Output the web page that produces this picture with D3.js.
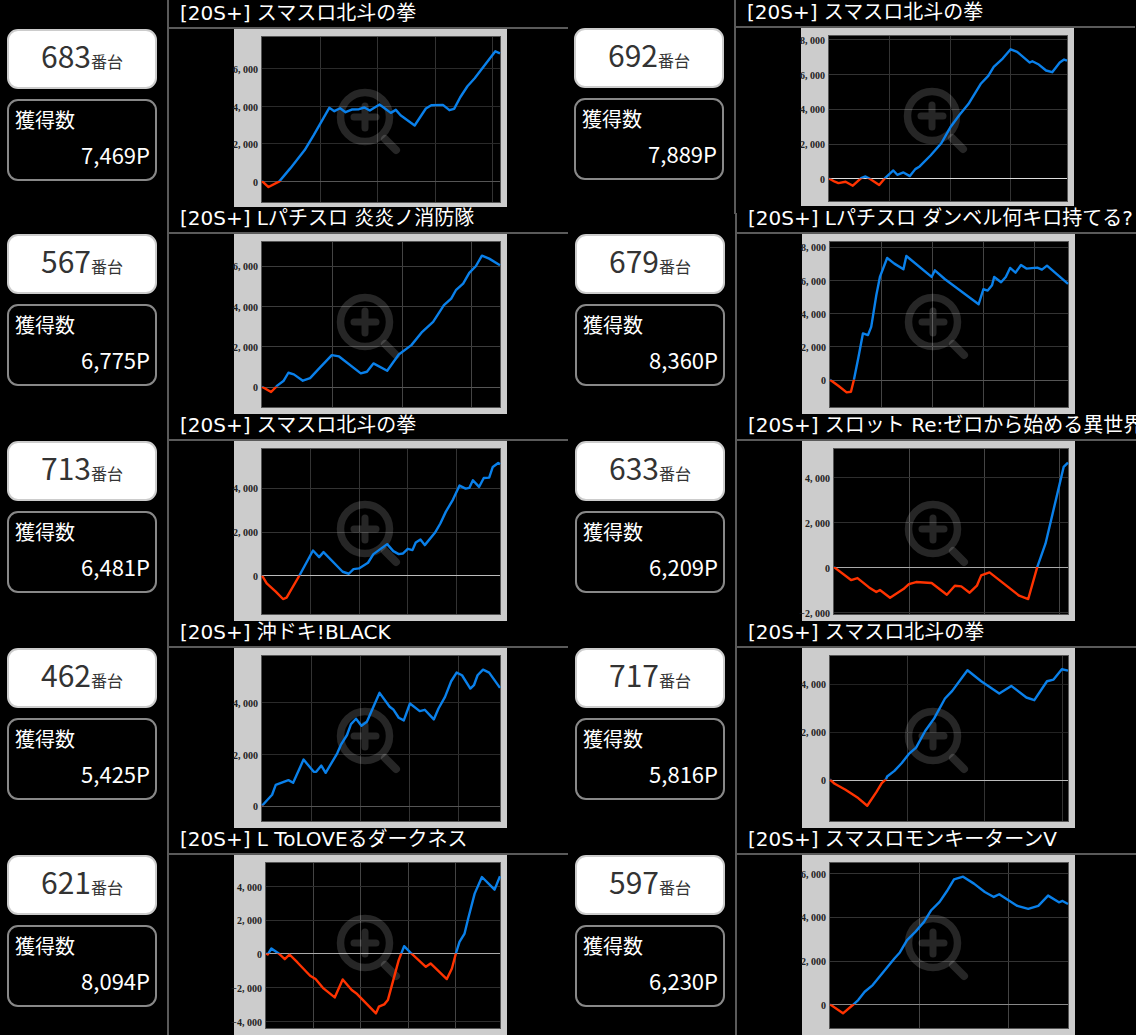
<!DOCTYPE html>
<html lang="ja">
<head>
<meta charset="utf-8">
<script src="https://cdn.jsdelivr.net/npm/d3@7/dist/d3.min.js"></script>
<style>
html,body{margin:0;padding:0;background:#000;overflow:hidden}
svg{display:block}
text{font-family:"Noto Sans CJK JP","Noto Sans",sans-serif}
.title{font-family:"DejaVu Sans","Noto Sans CJK JP",sans-serif}
.tick text{font-family:"Liberation Serif",serif;font-weight:700;font-size:10px;fill:#222}
</style>
</head>
<body>
<svg id="c" width="1136" height="1035"></svg>
<script>
// ---- content ----
const machines = [683,692,567,679,713,633,462,717,621,597];
const payouts  = ["7,469P","7,889P","6,775P","8,360P","6,481P","6,209P","5,425P","5,816P","8,094P","6,230P"];
const titles = [
 "[20S+] スマスロ北斗の拳","[20S+] スマスロ北斗の拳",
 "[20S+] Lパチスロ 炎炎ノ消防隊","[20S+] Lパチスロ ダンベル何キロ持てる?",
 "[20S+] スマスロ北斗の拳","[20S+] スロット Re:ゼロから始める異世界",
 "[20S+] 沖ドキ!BLACK","[20S+] スマスロ北斗の拳",
 "[20S+] L ToLOVEるダークネス","[20S+] スマスロモンキーターンV"];
const unitLabel = "番台";
const payoutLabel = "獲得数";

// ---- series: games played and cumulative medals ----
const games683 = [0,113,302,491,742,899,1170,1258,1358,1453,1560,1686,1780,1874,2044,2239,2327,2409,2654,2849,2943,3145,3258,3340,3447,3572,3698,4057,4138];
const values683 = [0,-319,-18,673,1646,2443,3894,3717,3876,3664,3805,3823,3912,3752,4071,3628,3788,3504,2956,3858,4035,4053,3770,3841,4460,5044,5469,6903,6796];
const games692 = [0,96,156,275,395,533,605,677,832,934,1066,1132,1234,1341,1431,1503,1683,1862,2012,2162,2311,2521,2641,2731,2880,3012,3120,3329,3371,3479,3599,3701,3826,3898,3946];
const values692 = [0,-190,-267,-190,-419,19,114,-19,-381,38,457,210,343,133,533,686,1314,2019,2933,3638,4267,5448,5886,6400,6876,7410,7257,6648,6724,6533,6190,6095,6648,6819,6762];
const games567 = [0,130,223,311,378,456,585,689,819,1000,1104,1415,1503,1596,1793,1959,2140,2295,2451,2606,2710,2777,2881,2969,3062,3150,3254,3409];
const values567 = [0,-264,66,297,692,610,297,428,906,1565,1499,659,741,1153,791,1598,2059,2718,3213,4037,4366,4778,5107,5634,5964,6491,6342,6013];
const games679 = [0,163,327,412,469,554,647,746,810,910,981,1123,1265,1443,1500,1997,2061,2260,2921,3014,3099,3184,3227,3362,3454,3539,3646,3753,3859,4073,4165,4264,4677];
const values679 = [0,-360,-760,-720,-20,1280,2780,2680,3180,5080,6180,7320,6980,6640,7440,6180,6580,6040,4540,5440,5360,5680,6180,5860,6180,6720,6440,6900,6680,6740,6620,6860,5760];
const games713 = [0,97,284,433,507,769,1052,1179,1269,1664,1791,1888,2000,2187,2299,2582,2709,2821,2910,3007,3104,3172,3269,3358,3567,3679,3791,3940,4075,4201,4276,4351,4478,4575,4687,4761,4873,4910];
const values713 = [0,-364,-742,-1076,-1015,-15,1136,833,1061,167,76,288,318,576,970,1424,1106,970,1000,1212,1152,1500,1636,1379,1939,2364,2894,3455,4091,3955,3985,4333,4030,4439,4455,4939,5121,5061];
const games633 = [0,227,313,467,564,612,747,925,998,1094,1301,1504,1610,1696,1807,1904,1961,2072,2467,2588,2708,2819,3060,3118];
const values633 = [0,-578,-489,-904,-1111,-1022,-1363,-978,-756,-667,-711,-1230,-830,-859,-1141,-830,-370,-237,-1274,-1422,0,1052,4459,4652];
const games462 = [0,206,280,538,634,847,1054,1105,1209,1297,1533,1606,1732,1813,1916,2026,2137,2395,2601,2675,2786,2889,3014,3213,3316,3500,3596,3729,3854,3965,4075,4245,4318,4392,4503,4628,4849];
const values462 = [0,424,810,990,887,1788,1312,1312,1556,1273,2032,2354,2740,3164,3370,3100,3254,4373,3833,3730,3408,3305,3961,3666,3717,3344,3768,4219,4823,5158,5055,4540,4669,5055,5273,5158,4566];
const games717 = [0,61,201,365,482,600,670,726,740,834,927,1021,1115,1232,1349,1489,1583,1780,1958,2192,2347,2543,2646,2810,2895,3002,3082];
const values717 = [0,-180,-429,-775,-1093,-526,-152,14,125,360,678,1066,1329,2021,2547,3377,3696,4554,4097,3585,3903,3419,3308,4097,4166,4595,4540];
const games621 = [0,38,115,268,398,498,667,935,1050,1218,1456,1625,1816,1931,2330,2391,2506,2582,2697,2812,2927,3080,3387,3487,3831,3939,4023,4100,4207,4284,4421,4575,4843,4958];
const values621 = [0,-59,296,0,-335,-59,-532,-1320,-1517,-2069,-2601,-1537,-2167,-2404,-3547,-3153,-3015,-2759,-1576,-394,433,0,-788,-591,-1517,-887,0,690,1182,2069,3547,4532,3783,4571];
const games597 = [0,146,256,317,390,480,602,724,785,866,959,1057,1138,1232,1313,1394,1496,1618,1740,1841,1902,2106,2228,2341,2451,2573,2614,2675];
const values597 = [0,-410,-30,198,577,881,1489,2096,2370,2932,3312,3767,4299,4679,5165,5712,5833,5514,5134,4906,5028,4496,4359,4496,4967,4663,4724,4587];

const seriesGames  = [games683,games692,games567,games679,games713,games633,games462,games717,games621,games597];
const seriesValues = [values683,values692,values567,values679,values713,values633,values462,values717,values621,values597];

// axis extents and tick labels
const yTops    = [7664,8171,7166,8280,5758,5259,5801,5149,5360,6456];
const yBottoms = [-1115,-1295,-1005,-1640,-1758,-2089,-592,-1730,-4414,-1079];
const xEnds    = [4138,3946,3409,4677,4910,3118,4849,3082,4958,2675];
const yTicks = [
 [0,2000,4000,6000],[0,2000,4000,6000,8000],[0,2000,4000,6000],[0,2000,4000,6000,8000],
 [0,2000,4000],[-2000,0,2000,4000],[0,2000,4000],[0,2000,4000],[-4000,-2000,0,2000,4000],[0,2000,4000,6000]];
const xTicks = [1000,2000,3000,4000];

// ---- layout and style ----
const rowTops = [29,234,441,648,855];
const panelHeights = [178,180,180,180,180];
const colShift = 568;
const zeroColors = ["#555","#ddd","#555","#555","#bbb","#aaa","#555","#bbb","#aaa","#888"];
const hGridColors = ["#2a2a2a","#333","#3c3c3c","#333","#333","#2e2e2e","#2a2a2a","#222","#2e2e2e","#333"];
const vGridColors = ["#333","#333","#444","#444","#333","#444","#333","#333","#444","#444"];
const BLUE="#0a80ea", RED="#ff3300";

const svg = d3.select("#c");
const defs = svg.append("defs");
const fmt = d3.format(",");

machines.forEach((m,i)=>{
  const col = i%2, row = Math.floor(i/2);
  const nudge = (col===1 && row===0) ? -1 : 0;
  const ox = col*colShift + nudge;
  const top = rowTops[row] + nudge;
  const g = svg.append("g").attr("transform",`translate(${ox},${top})`);

  // header rule and column rule
  g.append("rect").attr("x",168).attr("y",-2).attr("width",400).attr("height",2).attr("fill","#5a5a5a");
  const ruleTop = row===0 ? -top : -21;
  g.append("rect").attr("x",167).attr("y",ruleTop).attr("width",2).attr("height",186-ruleTop).attr("fill","#5a5a5a");

  g.append("text").attr("class","title").attr("x",180).attr("y",-9).attr("font-size",20).attr("fill","#fff").text(titles[i]);

  // number box
  g.append("rect").attr("x",8).attr("y",1).attr("width",148).attr("height",58).attr("rx",10)
    .attr("fill","#fff").attr("stroke","#ccc").attr("stroke-width",2);
  const t = g.append("text").attr("x",82).attr("y",39).attr("text-anchor","middle").attr("fill","#333").attr("font-family",'"Open Sans","Noto Sans CJK JP",sans-serif');
  t.append("tspan").attr("font-size",30).text(m);
  t.append("tspan").attr("font-size",16).attr("font-family",'"Noto Sans CJK JP",sans-serif').text(unitLabel);

  // payout box
  g.append("rect").attr("x",8).attr("y",71).attr("width",148).attr("height",80).attr("rx",10)
    .attr("fill","#000").attr("stroke","#888").attr("stroke-width",2);
  g.append("text").attr("x",15).attr("y",99).attr("font-size",20).attr("fill","#fff").text(payoutLabel);
  g.append("text").attr("x",150).attr("y",135).attr("font-size",22).attr("text-anchor","end").attr("fill","#fff")
    .attr("font-family",'"Open Sans",sans-serif').text(payouts[i]);

  // chart panel
  const ph = panelHeights[row];
  g.append("rect").attr("x",234).attr("y",0).attr("width",273).attr("height",ph).attr("fill","#ccc");
  const hasNegLabel = yTicks[i][0] < 0;
  const left = hasNegLabel ? 266 : 262, right = 500, pTop = 8, pBottom = 173;

  const x = d3.scaleLinear().domain([0,xEnds[i]]).range([left,right]);
  const y = d3.scaleLinear().domain([yBottoms[i],yTops[i]]).range([pBottom,pTop]);

  g.append("rect").attr("x",left-.5).attr("y",pTop-.5).attr("width",right-left+1).attr("height",pBottom-pTop+1)
    .attr("fill","#000").attr("stroke","#555");

  const gx = g.append("g").attr("transform",`translate(0,${pBottom})`)
    .call(d3.axisBottom(x).tickValues(xTicks.filter(v=>v<xEnds[i])).tickSize(pBottom-pTop).tickFormat(""));
  gx.select(".domain").remove();
  gx.selectAll("line").attr("y2",-(pBottom-pTop)).attr("stroke",vGridColors[i]);

  const gy = g.append("g").attr("transform",`translate(${left},0)`)
    .call(d3.axisLeft(y).tickValues(yTicks[i]).tickSize(0).tickPadding(4).tickFormat(v=>fmt(v).replace(",",", ")));
  gy.select(".domain").remove();
  gy.selectAll(".tick text").attr("dy","0.42em");
  gy.selectAll(".tick").append("line").attr("x1",0).attr("x2",right-left)
    .attr("stroke",d=>d===0?zeroColors[i]:hGridColors[i]);
  g.selectAll(".tick line").attr("shape-rendering","crispEdges");

  // zoom glyph
  const mg = g.append("g").attr("transform","translate(365,88)").attr("fill","none").attr("stroke","#fff")
    .attr("stroke-opacity",.15).attr("stroke-linecap","round");
  mg.append("circle").attr("r",24.5).attr("stroke-width",7.5);
  mg.append("path").attr("d","M-11 0H11M0 -11V11").attr("stroke-width",7);
  mg.append("path").attr("d","M20 22L31 33").attr("stroke-width",8);

  // cumulative line, split at zero
  const pts = seriesGames[i].map((k,j)=>[k,seriesValues[i][j]]);
  const line = d3.line().x(d=>x(d[0])).y(d=>y(d[1]));
  const zero = y(0);
  [["up",BLUE,pTop-4,zero-pTop+4],["down",RED,zero,pBottom-zero+4]].forEach(([id,color,cy,ch])=>{
    defs.append("clipPath").attr("id",`${id}${i}`).append("rect")
      .attr("x",left-1).attr("y",cy).attr("width",right-left+2).attr("height",ch);
    g.append("path").datum(pts).attr("d",line).attr("fill","none").attr("stroke",color)
      .attr("stroke-width",2.4).attr("stroke-linejoin","round").attr("clip-path",`url(#${id}${i})`);
  });
});
</script>
</body>
</html>
